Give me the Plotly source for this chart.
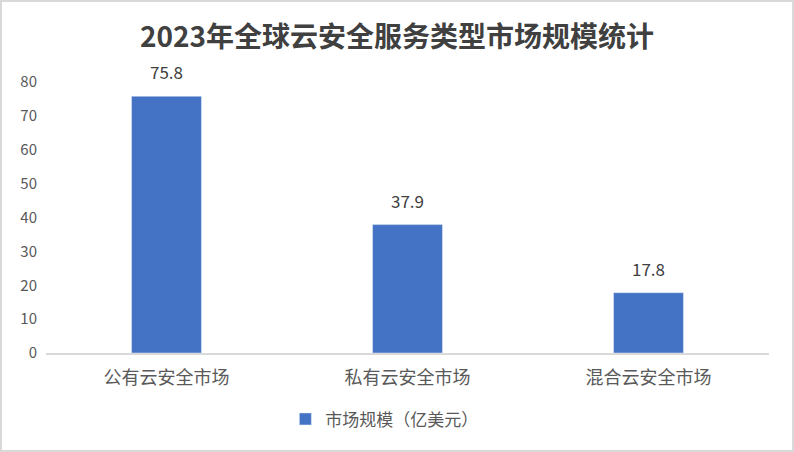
import plotly.graph_objects as go

categories = ["公有云安全市场", "私有云安全市场", "混合云安全市场"]
values = [75.8, 37.9, 17.8]
series_name = "市场规模（亿美元）"
title_text = "2023年全球云安全服务类型市场规模统计"

W, H = 794, 452
ml, mr, mt, mb = 46, 25, 82, 99
pw, ph = W - ml - mr, H - mt - mb

fig = go.Figure()
fig.add_trace(go.Bar(
    x=categories, y=values, name=series_name,
    marker_color="#4472C4", width=0.29,
))

# value labels above the bars
for c, v in zip(categories, values):
    fig.add_annotation(x=c, y=v, text=f"{v:.1f}", showarrow=False,
                       yanchor="bottom", yshift=10,
                       font=dict(size=17, color="#404040"))

# chart border in paper coordinates
x0 = (1 - ml) / pw
x1 = (W - 1 - ml) / pw
y0 = -(H - 1 - mt - ph) / ph
y1 = 1 + (mt - 1) / ph

fig.update_layout(
    width=W, height=H,
    margin=dict(l=ml, r=mr, t=mt, b=mb, autoexpand=False),
    paper_bgcolor="white", plot_bgcolor="white",
    font=dict(family="Noto Sans CJK SC, sans-serif", color="#595959", size=14),
    title=dict(text="<b>" + title_text + "</b>", x=0.5, xanchor="center",
               y=0.918, yanchor="middle",
               font=dict(size=28, color="#404040")),
    showlegend=True,
    legend=dict(orientation="h", x=0.468, xanchor="center", y=-0.245, yanchor="middle",
                font=dict(size=17, color="#595959"), itemwidth=30),
    xaxis=dict(showgrid=False, showline=True, linecolor="#D9D9D9", linewidth=2,
               ticks="", ticklabelstandoff=7, tickfont=dict(size=18, color="#595959")),
    yaxis=dict(range=[0, 80], dtick=10, showgrid=False, zeroline=False,
               showline=False, ticks="", ticklabelstandoff=8,
               tickfont=dict(size=15, color="#595959")),
    shapes=[dict(type="rect", xref="paper", yref="paper",
                 x0=x0, x1=x1, y0=y0, y1=y1,
                 line=dict(color="#D9D9D9", width=2))],
)

fig.write_html("out.html", config={"displayModeBar": False},
               post_script="document.body.style.margin='0';")
